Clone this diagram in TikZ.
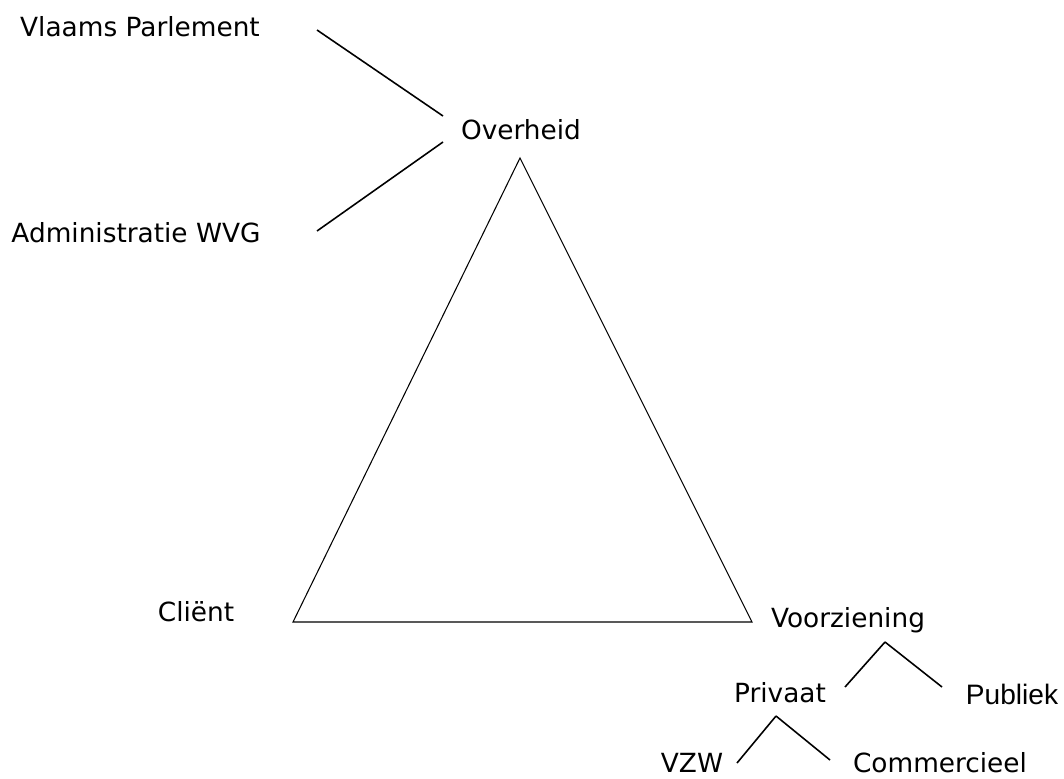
\documentclass[tikz,border=0pt]{standalone}
\usepackage{fontspec}
\setmainfont{DejaVu Sans}
\newfontfamily\arialfont{Liberation Sans}

\begin{document}
\begin{tikzpicture}[x=0.02cm,y=-0.02cm]
    \tikzstyle{label}=[inner sep=0pt,font=\fontsize{15}{18}\selectfont];
    \tikzstyle{link}=[line width=0.9pt];
    \tikzstyle{side}=[line width=0.6pt];

    \useasboundingbox (0,0) rectangle (1064,778);

    % overheid en haar takken
    \node (vp) [label] at (140,27) {Vlaams Parlement};
    \node (adm) [label] at (136,233) {Administratie WVG};
    \node (ov) [label] at (521,130) {Overheid};
    \coordinate (vpR) at (317,30); \coordinate (ovL1) at (443,116);
    \coordinate (admR) at (317,231); \coordinate (ovL2) at (443,142);

    % driehoek
    \coordinate (top) at (520,158);
    \coordinate (left) at (293,622);
    \coordinate (right) at (752,622);
    \node (cl) [label] at (196,612) {Cliënt};

    % voorziening en haar takken
    \node (vz) [label] at (848,620) {Voorziening};
    \node (pr) [label] at (780,693) {Privaat};
    \node (pu) [label,font=\arialfont\fontsize{16}{18}\selectfont] at (1012,694) {Publiek};
    \node (vzw) [label] at (692,763) {VZW};
    \node (com) [label] at (940,763) {Commercieel};
    \coordinate (vzB) at (885,642); \coordinate (prR) at (845,687);
    \coordinate (puL) at (942,687);
    \coordinate (prB) at (776,716); \coordinate (vzwR) at (737,763);
    \coordinate (comL) at (830,760);

    \draw[side] (top) -- (left) -- (right) -- cycle;
    \path[link] (vpR) edge (ovL1) (admR) edge (ovL2)
    (vzB) edge (prR) edge (puL) (prB) edge (vzwR) edge (comL);
\end{tikzpicture}
\end{document}
